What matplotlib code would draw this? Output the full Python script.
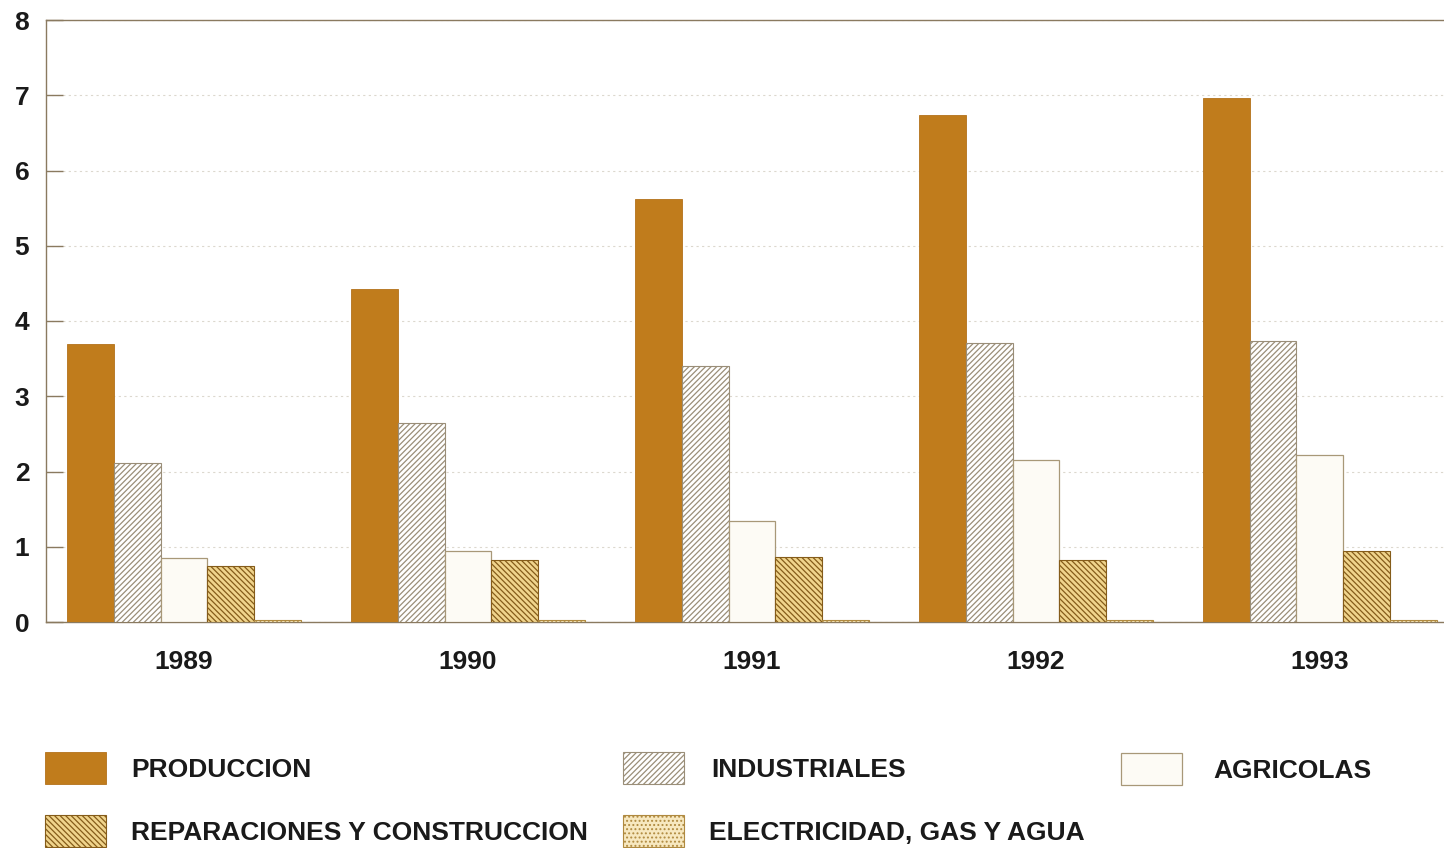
import matplotlib
matplotlib.use("Agg")
import matplotlib.pyplot as plt
from matplotlib.patches import Rectangle
import numpy as np

plt.rcParams['font.family'] = ['Liberation Sans', 'DejaVu Sans']
plt.rcParams['hatch.linewidth'] = 0.9

years = ['1989', '1990', '1991', '1992', '1993']
series_names = ['PRODUCCION', 'INDUSTRIALES', 'AGRICOLAS',
                'REPARACIONES Y CONSTRUCCION', 'ELECTRICIDAD, GAS Y AGUA']
produccion = [3.69, 4.43, 5.62, 6.74, 6.96]
industriales = [2.11, 2.65, 3.40, 3.71, 3.74]
agricolas = [0.85, 0.95, 1.34, 2.15, 2.22]
reparaciones = [0.74, 0.82, 0.86, 0.82, 0.95]
electricidad = [0.02, 0.02, 0.02, 0.02, 0.02]
yticks = [0, 1, 2, 3, 4, 5, 6, 7, 8]

values = [produccion, industriales, agricolas, reparaciones, electricidad]
styles = [
    dict(facecolor='#c07c1c', edgecolor='#b3711a', hatch=None, lw=0.6),
    dict(facecolor='#ffffff', edgecolor='#9a8e78', hatch='//////', lw=0.8),
    dict(facecolor='#fdfbf5', edgecolor='#a89878', hatch=None, lw=0.9),
    dict(facecolor='#f0d48c', edgecolor='#855c1a', hatch='\\\\\\\\\\\\', lw=0.8),
    dict(facecolor='#f7e8c0', edgecolor='#b08a40', hatch='....', lw=0.8),
]

fig = plt.figure(figsize=(14.44, 8.48), dpi=100)
ax = fig.add_axes([46/1444, 1-622/848, 1-46/1444, (622-20)/848])

x = np.arange(len(years))
w = 0.165
for j, (vals, st) in enumerate(zip(values, styles)):
    ax.bar(x + (j-2)*w, vals, width=w, facecolor=st['facecolor'],
           edgecolor=st['edgecolor'], hatch=st['hatch'], linewidth=st['lw'],
           zorder=3)

ax.set_xlim(-0.486, 4.437)
ax.set_ylim(0, 8)
ax.set_yticks(yticks)
ax.set_yticklabels([str(v) for v in yticks], fontsize=19, fontweight='bold',
                   color='#1a1a1a')
ax.set_xticks(x)
ax.set_xticklabels(years, fontsize=19, fontweight='bold', color='#1a1a1a')
ax.tick_params(axis='y', direction='in', length=12, width=1.0,
               color='#8a7a60', pad=12)
ax.tick_params(axis='x', direction='in', length=11, width=1.0,
               color='#8a7a60', pad=20)
for t in ax.xaxis.get_major_ticks():
    t.tick1line.set_zorder(4)
ax.yaxis.grid(True, color='#dcd8ce', linestyle=(0, (2, 3)), linewidth=0.8,
              zorder=0)
ax.set_axisbelow(True)
ax.spines['right'].set_visible(False)
for s in ['left', 'top', 'bottom']:
    ax.spines[s].set_color('#8a7a60')
    ax.spines[s].set_linewidth(1.0)

# Legend (manual layout)
W, H = 1444, 848
legend_items = [
    (0, 45, 752, 131),
    (1, 623, 752, 711),
    (2, 1121, 753, 1213),
    (3, 45, 815, 131),
    (4, 623, 815, 709),
]
for idx, px, py, tx in legend_items:
    st = styles[idx]
    rect = Rectangle((px/W, 1-(py+32)/H), 61/W, 32/H,
                     transform=fig.transFigure,
                     facecolor=st['facecolor'], edgecolor=st['edgecolor'],
                     hatch=st['hatch'], linewidth=st['lw'])
    fig.add_artist(rect)
    fig.text(tx/W, 1-(py+18)/H, series_names[idx], fontsize=19,
             fontweight='bold', color='#1a1a1a', va='center', ha='left')

fig.savefig('out.png', dpi=100)
